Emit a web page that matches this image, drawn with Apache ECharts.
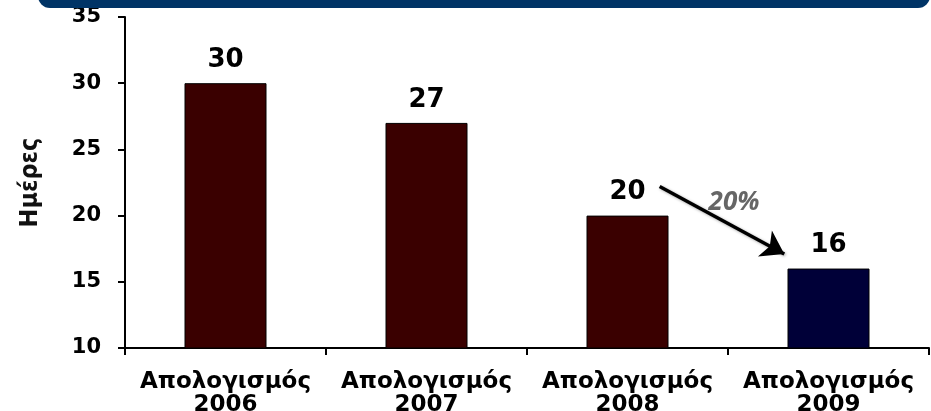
<!DOCTYPE html>
<html>
<head>
<meta charset="utf-8">
<script src="https://cdn.jsdelivr.net/npm/echarts@6/dist/echarts.min.js"></script>
<style>
  html, body { margin: 0; padding: 0; background: #fff; }
  #chart { width: 931px; height: 411px; }
</style>
</head>
<body>
<div id="chart"></div>
<script>
// Data
const categories = ['Απολογισμός\n2006', 'Απολογισμός\n2007', 'Απολογισμός\n2008', 'Απολογισμός\n2009']
const days = [30, 27, 20, 16]
const barColors = ['#3a0000', '#3a0000', '#3a0000', '#000038']
const yTicks = [10, 15, 20, 25, 30, 35]
// Arrow between 2008 and 2009, in (category position, value) units
const arrowFrom = [2.66, 22.2]
const arrowTo = [3.28, 17.1]
const changeLabel = '20%'
const changeLabelAt = [3.03, 20.95]

const boldFont = 'DejaVu Sans, Liberation Sans, sans-serif'

const chart = echarts.init(document.getElementById('chart'))

const option = {
  backgroundColor: '#fff',
  animation: false,
  graphic: [{
    type: 'rect',
    shape: { x: 38, y: -32, width: 892, height: 40, r: 12 },
    style: { fill: '#003466' },
    z: 100
  }],
  grid: { left: 125, right: 2, top: 17, bottom: 63, outerBoundsMode: 'none' },
  xAxis: [{
    type: 'category',
    data: categories,
    axisLine: { lineStyle: { color: '#000', width: 2 } },
    axisTick: { show: true, length: 7, lineStyle: { color: '#000', width: 2 } },
    axisLabel: {
      color: '#000',
      fontFamily: boldFont,
      fontWeight: 'bold',
      fontSize: 23,
      lineHeight: 23,
      margin: 23,
      interval: 0
    }
  }, {
    type: 'value',
    min: 0,
    max: 4,
    show: false
  }],
  yAxis: {
    type: 'value',
    min: yTicks[0],
    max: yTicks[yTicks.length - 1],
    interval: 5,
    name: 'Ημέρες',
    nameLocation: 'middle',
    nameGap: 82,
    nameRotate: 90,
    nameTextStyle: {
      color: '#111',
      fontFamily: 'DejaVu Sans Condensed, Liberation Sans Narrow, sans-serif',
      fontWeight: 'bold',
      fontSize: 25
    },
    axisLine: { show: true, lineStyle: { color: '#000', width: 2 } },
    axisTick: { show: true, length: 7, lineStyle: { color: '#000', width: 2 } },
    axisLabel: {
      color: '#000',
      fontFamily: boldFont,
      fontWeight: 'bold',
      fontSize: 21,
      margin: 24
    },
    splitLine: { show: false }
  },
  series: [{
    type: 'bar',
    xAxisIndex: 0,
    barWidth: 82,
    data: days.map((v, i) => ({
      value: v,
      itemStyle: { color: barColors[i], borderColor: '#000', borderWidth: 1 }
    })),
    label: {
      show: true,
      position: 'top',
      distance: 10,
      color: '#000',
      fontFamily: boldFont,
      fontWeight: 'bold',
      fontSize: 26
    }
  }, {
    type: 'lines',
    coordinateSystem: 'cartesian2d',
    xAxisIndex: 1,
    symbol: ['none', 'arrow'],
    symbolSize: 22,
    lineStyle: {
      color: '#000',
      width: 3.5,
      opacity: 1,
      shadowColor: 'rgba(0,0,0,0.35)',
      shadowBlur: 3,
      shadowOffsetX: 1,
      shadowOffsetY: 1
    },
    data: [{ coords: [arrowFrom, arrowTo] }],
    z: 5
  }, {
    type: 'scatter',
    xAxisIndex: 1,
    symbolSize: 0,
    data: [changeLabelAt],
    label: {
      show: true,
      position: 'inside',
      formatter: changeLabel,
      color: '#404040',
      fontFamily: 'Open Sans, sans-serif',
      fontStyle: 'italic',
      fontWeight: 'bold',
      fontSize: 26
    }
  }]
}

chart.setOption(option)
</script>
</body>
</html>
